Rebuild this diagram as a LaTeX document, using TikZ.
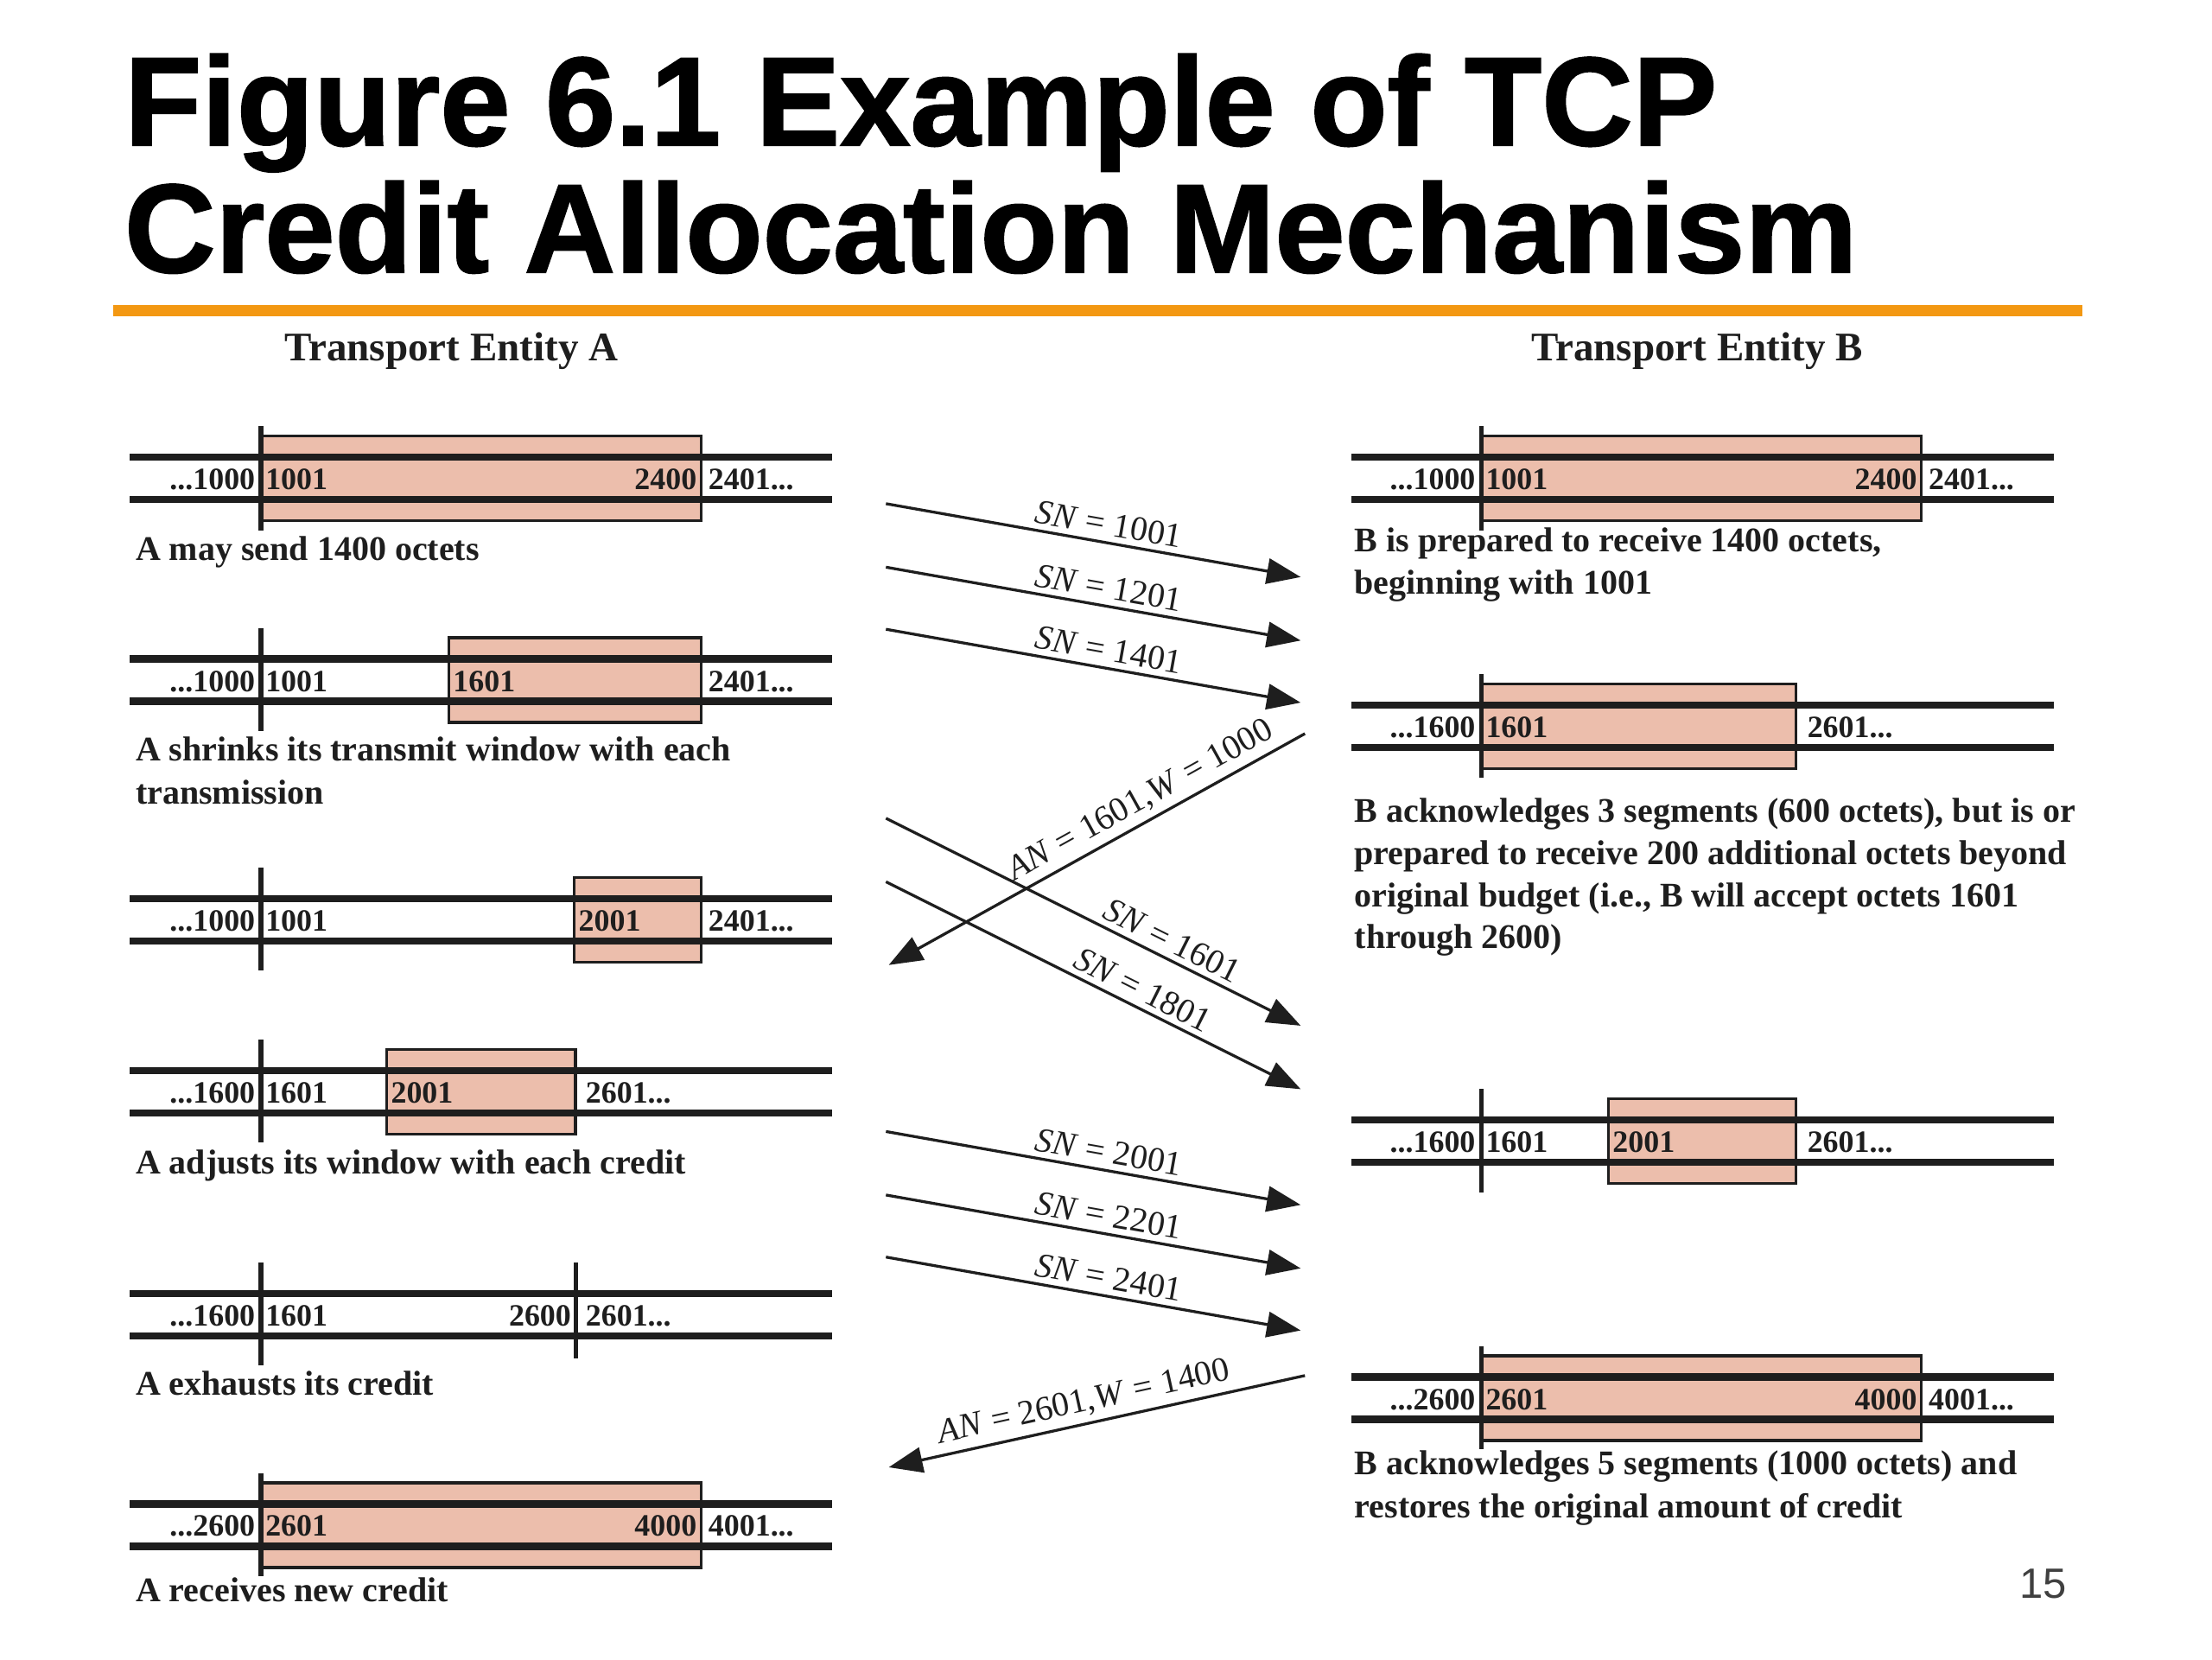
\documentclass[tikz,border=0pt]{standalone}
\usepackage{fontspec}
\setmainfont{Liberation Serif}
\newfontfamily\titlefont{Liberation Sans}[BoldFeatures={FakeBold=1.3}]
\newfontfamily\pagefont{Liberation Sans}
\usetikzlibrary{arrows.meta}
\definecolor{win}{RGB}{236,190,172}
\definecolor{rulec}{RGB}{243,152,18}
\definecolor{ink}{RGB}{30,30,30}
\newcommand\seqrow[3]{\draw[seqline] (#1,#3) -- (#2,#3); \draw[seqline] (#1,#3+30) -- (#2,#3+30);}
\begin{document}
\begin{tikzpicture}[x=1pt,y=-1pt,
 seqline/.style={line width=5pt, draw=ink},
 tickl/.style={line width=3.2pt, draw=ink},
 winbox/.style={fill=win, draw=ink, line width=2pt},
 numlab/.style={font=\fontsize{22}{26}\selectfont\bfseries, text=ink, inner sep=0pt},
 labl/.style={numlab, anchor=base west},
 labr/.style={numlab, anchor=base east},
 captxt/.style={font=\fontsize{24.5}{30}\selectfont\bfseries, text=ink, inner sep=0pt, anchor=base west},
 hdtxt/.style={font=\fontsize{28.8}{32}\selectfont\bfseries, text=ink, inner sep=0pt, anchor=base},
 msgarrow/.style={line width=2pt, draw=ink, -{Triangle[length=24pt,width=18pt]}},
 mlab/.style={font=\fontsize{24.5}{28}\selectfont, text=ink, inner sep=4pt, sloped},
 ttl/.style={font=\titlefont\fontsize{89.5}{96}\selectfont\bfseries, text=black, inner sep=0pt, anchor=base west},
]
\useasboundingbox[fill=white] (0,0) rectangle (1568,1176);

% title
\node[ttl] (t1) at (88,103) {Figure 6.1 Example of TCP};
\node[ttl] (t2) at (88,193) {Credit Allocation Mechanism};
\draw[line width=8pt, rulec] (80,220) -- (1476,220);

\node[hdtxt] (hA) at (320,256) {Transport Entity A};
\node[hdtxt] (hB) at (1203,256) {Transport Entity B};

% ===== Entity A =====
% A1
\draw[winbox] (185,309) rectangle (497,369);
\seqrow{92}{590}{324}
\draw[tickl] (185,302) -- (185,376);
\node[labr] (a1a) at (181,347) {...1000};
\node[labl] (a1b) at (188,347) {1001};
\node[labr] (a1c) at (494,347) {2400};
\node[labl] (a1d) at (502,347) {2401...};
\node[captxt] (ca1) at (96,397) {A may send 1400 octets};
% A2
\draw[winbox] (318,452) rectangle (497,512);
\seqrow{92}{590}{467}
\draw[tickl] (185,445) -- (185,518);
\node[labr] (a2a) at (181,490) {...1000};
\node[labl] (a2b) at (188,490) {1001};
\node[labl] (a2c) at (321,490) {1601};
\node[labl] (a2d) at (502,490) {2401...};
\node[captxt] (ca2) at (96,539) {A shrinks its transmit window with each};
\node[captxt] (ca2b) at (96,570) {transmission};
% A3
\draw[winbox] (407,622) rectangle (497,682);
\seqrow{92}{590}{637}
\draw[tickl] (185,615) -- (185,688);
\node[labr] (a3a) at (181,660) {...1000};
\node[labl] (a3b) at (188,660) {1001};
\node[labl] (a3c) at (410,660) {2001};
\node[labl] (a3d) at (502,660) {2401...};
% A4
\draw[winbox] (274,744) rectangle (408,804);
\seqrow{92}{590}{759}
\draw[tickl] (185,737) -- (185,810);
\node[labr] (a4a) at (181,782) {...1600};
\node[labl] (a4b) at (188,782) {1601};
\node[labl] (a4c) at (277,782) {2001};
\node[labl] (a4d) at (415,782) {2601...};
\node[captxt] (ca4) at (96,832) {A adjusts its window with each credit};
% A5
\seqrow{92}{590}{917}
\draw[tickl] (185,895) -- (185,968);
\draw[tickl] (408,895) -- (408,963);
\node[labr] (a5a) at (181,940) {...1600};
\node[labl] (a5b) at (188,940) {1601};
\node[labr] (a5c) at (405,940) {2600};
\node[labl] (a5d) at (415,940) {2601...};
\node[captxt] (ca5) at (96,989) {A exhausts its credit};
% A6
\draw[winbox] (185,1051) rectangle (497,1111);
\seqrow{92}{590}{1066}
\draw[tickl] (185,1044) -- (185,1117);
\node[labr] (a6a) at (181,1089) {...2600};
\node[labl] (a6b) at (188,1089) {2601};
\node[labr] (a6c) at (494,1089) {4000};
\node[labl] (a6d) at (502,1089) {4001...};
\node[captxt] (ca6) at (96,1135) {A receives new credit};

% ===== Entity B =====
% B1
\draw[winbox] (1050,309) rectangle (1362,369);
\seqrow{958}{1456}{324}
\draw[tickl] (1050,302) -- (1050,376);
\node[labr] (b1a) at (1046,347) {...1000};
\node[labl] (b1b) at (1053,347) {1001};
\node[labr] (b1c) at (1359,347) {2400};
\node[labl] (b1d) at (1367,347) {2401...};
\node[captxt] (cb1) at (960,391) {B is prepared to receive 1400 octets,};
\node[captxt] (cb1b) at (960,421) {beginning with 1001};
% B2
\draw[winbox] (1050,485) rectangle (1273,545);
\seqrow{958}{1456}{500}
\draw[tickl] (1050,478) -- (1050,551);
\node[labr] (b2a) at (1046,523) {...1600};
\node[labl] (b2b) at (1053,523) {1601};
\node[labl] (b2d) at (1281,523) {2601...};
\node[captxt] (cb2) at (960,583) {B acknowledges 3 segments (600 octets), but is or};
\node[captxt] (cb2b) at (960,613) {prepared to receive 200 additional octets beyond};
\node[captxt] (cb2c) at (960,643) {original budget (i.e., B will accept octets 1601};
\node[captxt] (cb2d) at (960,672) {through 2600)};
% B3
\draw[winbox] (1140,779) rectangle (1273,839);
\seqrow{958}{1456}{794}
\draw[tickl] (1050,772) -- (1050,845);
\node[labr] (b3a) at (1046,817) {...1600};
\node[labl] (b3b) at (1053,817) {1601};
\node[labl] (b3c) at (1143,817) {2001};
\node[labl] (b3d) at (1281,817) {2601...};
% B4
\draw[winbox] (1050,961) rectangle (1362,1021);
\seqrow{958}{1456}{976}
\draw[tickl] (1050,954) -- (1050,1027);
\node[labr] (b4a) at (1046,999) {...2600};
\node[labl] (b4b) at (1053,999) {2601};
\node[labr] (b4c) at (1359,999) {4000};
\node[labl] (b4d) at (1367,999) {4001...};
\node[captxt] (cb4) at (960,1045) {B acknowledges 5 segments (1000 octets) and};
\node[captxt] (cb4b) at (960,1076) {restores the original amount of credit};

% ===== messages =====
\coordinate (m1s) at (628,357); \coordinate (m1e) at (922,409);
\coordinate (m2s) at (628,402); \coordinate (m2e) at (922,454);
\coordinate (m3s) at (628,446); \coordinate (m3e) at (922,498);
\coordinate (m4s) at (925,520); \coordinate (m4e) at (630,684);
\coordinate (m5s) at (628,580); \coordinate (m5e) at (922,727);
\coordinate (m6s) at (628,625); \coordinate (m6e) at (922,772);
\coordinate (m7s) at (628,802); \coordinate (m7e) at (922,854);
\coordinate (m8s) at (628,847); \coordinate (m8e) at (922,899);
\coordinate (m9s) at (628,891); \coordinate (m9e) at (922,943);
\coordinate (m10s) at (925,975); \coordinate (m10e) at (630,1040);

\draw[msgarrow] (m1s) -- node[mlab, above, pos=0.53] (l1) {\textit{SN} = 1001} (m1e);
\draw[msgarrow] (m2s) -- node[mlab, above, pos=0.53] (l2) {\textit{SN} = 1201} (m2e);
\draw[msgarrow] (m3s) -- node[mlab, above, pos=0.53] (l3) {\textit{SN} = 1401} (m3e);
\draw[msgarrow] (m4s) -- node[mlab, above, pos=0.37] (l4) {\textit{AN} = 1601,\textit{W} = 1000} (m4e);
\draw[msgarrow] (m5s) -- node[mlab, above, pos=0.67] (l5) {\textit{SN} = 1601} (m5e);
\draw[msgarrow] (m6s) -- node[mlab, above, pos=0.60] (l6) {\textit{SN} = 1801} (m6e);
\draw[msgarrow] (m7s) -- node[mlab, above, pos=0.53] (l7) {\textit{SN} = 2001} (m7e);
\draw[msgarrow] (m8s) -- node[mlab, above, pos=0.53] (l8) {\textit{SN} = 2201} (m8e);
\draw[msgarrow] (m9s) -- node[mlab, above, pos=0.53] (l9) {\textit{SN} = 2401} (m9e);
\draw[msgarrow] (m10s) -- node[mlab, above, pos=0.52] (l10) {\textit{AN} = 2601,\textit{W} = 1400} (m10e);

\node[font=\pagefont\fontsize{30}{34}\selectfont, text=black!75, inner sep=0pt, anchor=base east] (pg) at (1465,1133) {15};
\end{tikzpicture}
\end{document}
